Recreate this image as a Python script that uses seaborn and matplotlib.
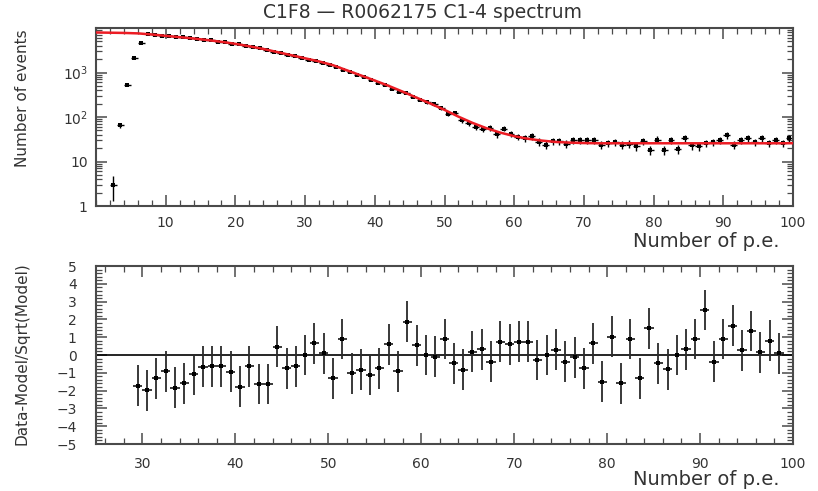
import numpy as np
import pandas as pd
import matplotlib
matplotlib.use("Agg")
import matplotlib.pyplot as plt
from matplotlib.ticker import MultipleLocator, FixedLocator, FixedFormatter, LogLocator, NullFormatter
import seaborn as sns

TITLE = "C1F8 \u2014 R0062175 C1-4 spectrum"
XLABEL = "Number of p.e."
YLABEL_TOP = "Number of events"
YLABEL_BOTTOM = "Data-Model/Sqrt(Model)"

# fitted model curve, sampled every 2 p.e.
model_pe = [0, 2, 4, 6, 8, 10, 12, 14, 16, 18, 20, 22, 24, 26, 28, 30, 32, 34, 36, 38,
            40, 42, 44, 46, 48, 50, 52, 54, 56, 58, 60, 62, 64, 66, 68, 70, 72, 74, 76, 78,
            80, 82, 84, 86, 88, 90, 92, 94, 96, 98, 100]
model_events = [7943, 7852, 7762, 7586, 7161, 6683, 6237, 5821, 5370, 4898,
                4416, 3890, 3388, 2884, 2455, 2089, 1778, 1462, 1122, 861,
                661, 501, 372, 272, 200, 145, 102, 74.1, 56.2, 44.7,
                37.2, 32.4, 29.5, 27.5, 26.6, 26.0, 25.7, 25.7, 25.7, 25.7,
                25.7, 25.7, 25.7, 25.7, 25.7, 25.7, 25.7, 25.7, 25.7, 25.7, 25.8]

# measured spectrum, one bin per p.e. (bin centres 2.5 ... 99.5)
data_pe = np.arange(2.5, 100.0, 1.0)
data_events = [3, 66, 525, 2090, 4550, 7180, 7100, 6750, 6620, 6290,
               6190, 5870, 5760, 5410, 5300, 4950, 4810, 4490, 4320, 3970,
               3790, 3470, 3290, 2960, 2800, 2520, 2380, 2096, 1919, 1795,
               1656, 1464, 1310, 1162, 1029, 901, 788, 681, 573, 523,
               430, 367, 353, 281, 242, 216, 193, 158, 118, 122,
               84, 73, 60, 54, 57, 41, 55, 42, 36, 34,
               37, 28, 24, 29, 29, 25, 30, 30, 30, 30,
               24, 26, 27, 24, 25, 22, 29, 18, 31, 18,
               30, 19, 33, 23, 22, 26, 27, 30, 39, 24,
               30, 34, 27, 33, 26, 30, 26, 34]

# normalised residuals of the fit range (bin centres 29.5 ... 98.5)
resid_pe = np.arange(29.5, 99.0, 1.0)
residuals = [-1.72, -1.97, -1.31, -0.90, -1.84, -1.60, -1.07, -0.65, -0.62, -0.62,
             -0.94, -1.78, -0.62, -1.63, -1.63, 0.47, -0.75, -0.62, 0.00, 0.66,
             0.10, -1.31, 0.90, -1.03, -0.84, -1.12, -0.75, 0.60, -0.90, 1.87,
             0.56, 0.00, -0.09, 0.90, -0.47, -0.84, 0.19, 0.32, -0.37, 0.75,
             0.60, 0.75, 0.75, -0.28, 0.00, 0.30, -0.37, -0.13, -0.75, 0.66,
             -1.50, 1.03, -1.60, 0.90, -1.31, 1.50, -0.47, -0.80, 0.00, 0.32,
             0.90, 2.53, -0.37, 0.90, 1.65, 0.28, 1.35, 0.15, 0.79, 0.10]
RESID_ERR = 1.15

data = pd.DataFrame({"pe": data_pe, "events": data_events})
model = pd.DataFrame({"pe": model_pe, "events": model_events})
resid = pd.DataFrame({"pe": resid_pe, "r": residuals})

sns.set_theme(style="ticks")
plt.rcParams["font.family"] = ["DejaVu Sans"]
plt.rcParams["mathtext.default"] = "regular"

FRAME = "#4a4a4a"
TEXT = "#333333"
fig = plt.figure(figsize=(8.18, 4.91), dpi=100)
ax1 = fig.add_axes([0.1174, 0.5804, 0.852, 0.3625])
ax2 = fig.add_axes([0.1174, 0.0957, 0.852, 0.3625])

# --- spectrum with fit ---
ax1.errorbar(data["pe"], data["events"], yerr=np.sqrt(data["events"]), xerr=0.5,
             fmt="none", ecolor="black", elinewidth=1.0, zorder=2)
sns.scatterplot(data=data, x="pe", y="events", ax=ax1, color="black", marker="s",
                s=7, linewidth=0, zorder=3)
sns.lineplot(data=model, x="pe", y="events", ax=ax1, color="#ec1c24", lw=1.8, zorder=4)
ax1.set_yscale("log")
ax1.set_xlim(0, 100)
ax1.set_ylim(1, 1e4)
ax1.yaxis.set_major_locator(FixedLocator([1, 10, 100, 1000, 10000]))
ax1.yaxis.set_major_formatter(FixedFormatter(["1", "10", "10$^{2}$", "10$^{3}$", ""]))
ax1.yaxis.set_minor_locator(LogLocator(base=10, subs=np.arange(2, 10)))
ax1.yaxis.set_minor_formatter(NullFormatter())
ax1.set_xticks(range(10, 101, 10))
ax1.set_xticklabels([str(v) for v in range(10, 101, 10)])
ax1.xaxis.set_minor_locator(MultipleLocator(2))

# --- residuals ---
ax2.axhline(0, color="black", lw=1.2, zorder=1)
ax2.errorbar(resid["pe"], resid["r"], yerr=RESID_ERR, xerr=0.5, fmt="none",
             ecolor="#2a2a2a", elinewidth=1.3, zorder=2)
sns.scatterplot(data=resid, x="pe", y="r", ax=ax2, color="black", marker="s",
                s=5, linewidth=0, zorder=3)
ax2.set_xlim(25, 100)
ax2.set_ylim(-5, 5)
ax2.xaxis.set_major_locator(MultipleLocator(10))
ax2.xaxis.set_minor_locator(MultipleLocator(2))
ax2.yaxis.set_major_locator(MultipleLocator(1))
ax2.yaxis.set_minor_locator(MultipleLocator(0.2))

for ax in (ax1, ax2):
    for sp in ax.spines.values():
        sp.set_visible(True)
        sp.set_color(FRAME)
        sp.set_linewidth(1.5)
    ax.tick_params(which="both", direction="in", bottom=True, left=True, top=True, right=True,
                   color=FRAME, labelcolor=TEXT, labelsize=10)
    ax.tick_params(which="major", length=8, width=1.1)
    ax.tick_params(which="minor", length=4, width=0.9)
    ax.set_xlabel(XLABEL, loc="right", fontsize=14, color=TEXT)
    ax.xaxis.set_label_coords(0.981, -0.145)

ax1.tick_params(axis="x", which="major", pad=7)
ax1.tick_params(axis="y", which="major", pad=6)
ax2.tick_params(axis="x", which="major", pad=9)
ax2.tick_params(axis="y", which="major", pad=14)

ax1.set_ylabel(YLABEL_TOP, loc="top", fontsize=11, color=TEXT)
ax1.yaxis.set_label_coords(-0.095, 0.99)
ax2.set_ylabel(YLABEL_BOTTOM, loc="top", fontsize=11, color=TEXT)
ax2.yaxis.set_label_coords(-0.095, 1.02)

fig.text(0.516, 0.975, TITLE, ha="center", va="center", fontsize=13.5, color=TEXT)

fig.savefig("out.png", dpi=100, facecolor="white")
